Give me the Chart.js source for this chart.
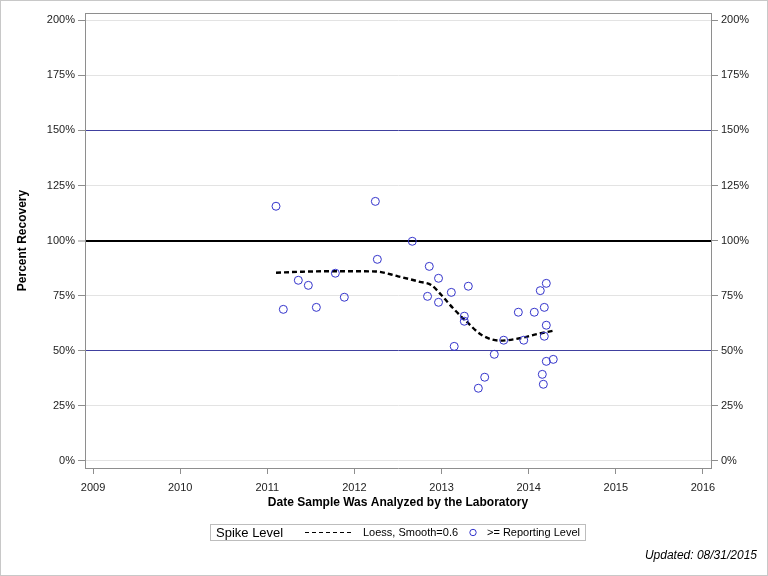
<!DOCTYPE html>
<html>
<head>
<meta charset="utf-8">
<script src="https://cdn.jsdelivr.net/npm/chart.js@4.4.1/dist/chart.umd.min.js"></script>
<style>
html,body{margin:0;padding:0;background:#fff;}
#wrap{width:768px;height:576px;position:relative;}
</style>
</head>
<body>
<div id="wrap"><canvas id="c" width="768" height="576"></canvas></div>
<script>
// ---- data ----
const sampleYears = [2011.100,2011.184,2011.356,2011.471,2011.563,2011.781,2011.884,2012.240,2012.263,2012.664,
  2012.859,2012.839,2012.965,2012.965,2013.112,2013.145,2013.261,2013.261,2013.307,2013.422,
  2013.495,2013.605,2013.713,2013.881,2013.943,2014.064,2014.133,2014.202,2014.179,2014.202,
  2014.179,2014.202,2014.282,2014.156,2014.168];
const recoveryPct = [115.6,68.8,82.0,79.7,69.7,85.2,74.3,117.8,91.5,99.7,
  88.3,74.7,82.9,72.0,76.5,52.0,65.7,63.4,79.3,33.0,
  38.0,48.4,54.8,67.5,54.8,67.5,77.3,80.6,69.7,61.6,
  56.6,45.2,46.1,39.3,34.8];
const loessYears = [2011.10,2011.40,2011.80,2012.24,2012.50,2012.75,2012.88,2013.00,2013.13,2013.29,2013.46,2013.67,2013.90,2014.10,2014.28];
const loessPct   = [85.4,85.9,86.1,86.0,83.8,81.3,79.9,75.2,69.4,63.1,57.2,54.6,55.7,57.6,59.1];
const xTickValues = [2009,2010,2011,2012,2013,2014,2015,2016];
const yTickValues = [0,25,50,75,100,125,150,175,200];
const refLines = {50:'#40409f',100:'#000000',150:'#40409f'};

const FONT = "'Liberation Sans', Arial, sans-serif";
const markerColor = '#3535cc';

const scatterData = sampleYears.map((x,i)=>({x:x,y:recoveryPct[i]}));
const loessData = loessYears.map((x,i)=>({x:x,y:loessPct[i]}));

const framePlugin = {
  id:'frame',
  beforeDraw(chart){
    const ctx = chart.ctx;
    ctx.save();
    ctx.fillStyle='#fff';
    ctx.fillRect(0,0,chart.width,chart.height);
    ctx.restore();
  },
  afterDraw(chart){
    const ctx = chart.ctx, a = chart.chartArea;
    ctx.save();
    // top edge of plot frame
    ctx.strokeStyle='#8e8e8e'; ctx.lineWidth=1;
    ctx.beginPath();
    ctx.moveTo(Math.round(a.left), Math.round(a.top)+0.5);
    ctx.lineTo(Math.round(a.right), Math.round(a.top)+0.5);
    ctx.stroke();
    // outer border
    ctx.strokeStyle='#c8c8c8';
    ctx.strokeRect(0.5,0.5,chart.width-1,chart.height-1);
    // legend box
    ctx.strokeStyle='#bdbdbd';
    ctx.strokeRect(210.5,524.5,375,16);
    ctx.fillStyle='#000';
    ctx.textBaseline='middle';
    ctx.font='13px '+FONT;
    ctx.fillText('Spike Level',216,533);
    ctx.strokeStyle='#000'; ctx.lineWidth=1; ctx.setLineDash([4,3]);
    ctx.beginPath(); ctx.moveTo(305,532.5); ctx.lineTo(353,532.5); ctx.stroke();
    ctx.setLineDash([]);
    ctx.font='11px '+FONT;
    ctx.fillText('Loess, Smooth=0.6',363,533);
    ctx.strokeStyle=markerColor; ctx.lineWidth=1;
    ctx.beginPath(); ctx.arc(473,532.5,3.2,0,Math.PI*2); ctx.stroke();
    ctx.fillText('>= Reporting Level',487,533);
    // footnote
    ctx.font='italic 12px '+FONT;
    ctx.textAlign='right';
    ctx.fillText('Updated: 08/31/2015',757,556);
    ctx.restore();
  }
};

const gridColor = c => (refLines[c.tick && c.tick.value] || '#e3e3e3');
const gridWidth = c => (c.tick && c.tick.value===100 ? 2 : 1);

new Chart(document.getElementById('c'),{
  type:'scatter',
  data:{datasets:[
    {type:'line',label:'Loess, Smooth=0.6',data:loessData,borderColor:'#000',borderWidth:2.4,borderDash:[5,3],
      pointRadius:0,fill:false,tension:0.4,cubicInterpolationMode:'monotone',order:2},
    {label:'>= Reporting Level',data:scatterData,pointRadius:4,pointHoverRadius:4,pointBorderWidth:1,
      borderColor:markerColor,backgroundColor:'rgba(0,0,0,0)',pointBackgroundColor:'rgba(0,0,0,0)',order:1}
  ]},
  plugins:[framePlugin],
  options:{
    responsive:false,animation:false,
    layout:{padding:{top:13,bottom:66,left:0,right:0}},
    plugins:{legend:{display:false},tooltip:{enabled:false}},
    scales:{
      x:{type:'linear',position:'bottom',min:2008.908,max:2016.092,
        afterBuildTicks:s=>{s.ticks=xTickValues.map(v=>({value:v}));},
        afterFit:s=>{s.height=42;},
        ticks:{callback:v=>String(v),font:{family:FONT,size:11},color:'#222',padding:7,maxRotation:0,autoSkip:false},
        grid:{drawOnChartArea:false,tickLength:6,tickColor:'#8e8e8e'},
        border:{display:true,color:'#8e8e8e'},
        title:{display:true,text:'Date Sample Was Analyzed by the Laboratory',color:'#000',
          font:{family:FONT,size:12,weight:'bold'},padding:{top:0,bottom:0}}
      },
      y:{type:'linear',position:'left',min:-3.2,max:203.3,
        afterBuildTicks:s=>{s.ticks=yTickValues.map(v=>({value:v}));},
        afterFit:s=>{s.width=85;},
        ticks:{callback:v=>v+'%',font:{family:FONT,size:11},color:'#222',padding:3},
        grid:{color:gridColor,lineWidth:gridWidth,tickLength:7,tickColor:'#8e8e8e',tickWidth:1},
        border:{display:true,color:'#8e8e8e'},
        title:{display:true,text:'Percent Recovery',color:'#000',font:{family:FONT,size:12,weight:'bold'},padding:{top:15,bottom:0}}
      },
      y2:{type:'linear',position:'right',min:-3.2,max:203.3,
        afterBuildTicks:s=>{s.ticks=yTickValues.map(v=>({value:v}));},
        afterFit:s=>{s.width=57;},
        ticks:{callback:v=>v+'%',font:{family:FONT,size:11},color:'#222',padding:3},
        grid:{drawOnChartArea:false,tickLength:7,tickColor:'#8e8e8e'},
        border:{display:true,color:'#8e8e8e'}
      }
    }
  }
});
</script>
</body>
</html>
